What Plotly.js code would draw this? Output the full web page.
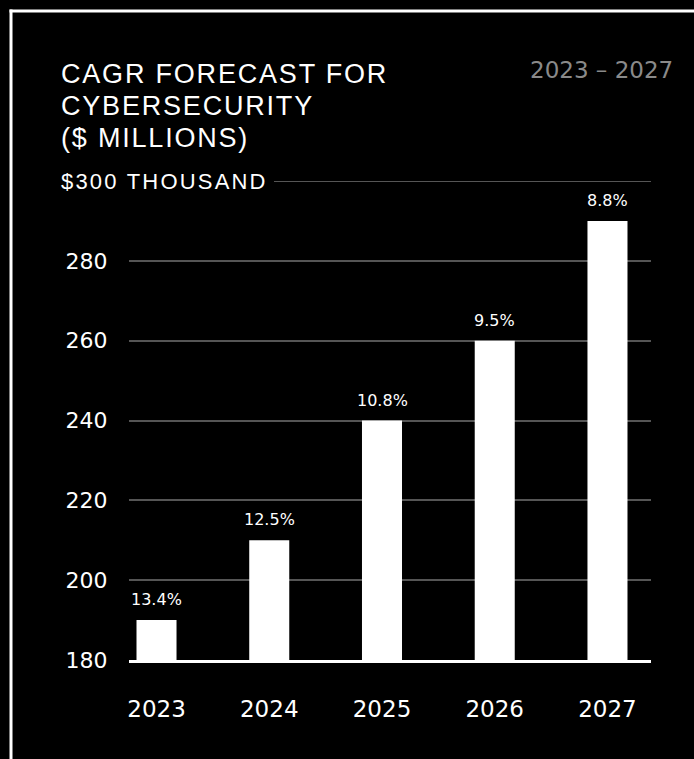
<!DOCTYPE html>
<html>
<head>
<meta charset="utf-8">
<script src="https://cdn.plot.ly/plotly-3.0.1.min.js"></script>
<style>
  html, body { margin: 0; padding: 0; background: #000; }
  #chart { width: 694px; height: 759px; }
</style>
</head>
<body>
<div id="chart"></div>
<script>
const years = ["2023", "2024", "2025", "2026", "2027"];
const values = [190, 210, 240, 260, 290];
const growthLabels = ["13.4%", "12.5%", "10.8%", "9.5%", "8.8%"];
const yTickVals = [180, 200, 220, 240, 260, 280];
const yTickText = ["180", "200", "220", "240", "260", "280"];
const topTickLabel = "$300 THOUSAND";
const titleLines = ["CAGR FORECAST FOR", "CYBERSECURITY", "($ MILLIONS)"];
const periodText = "2023 – 2027";

const W = 694, H = 759;
const M = { l: 129, r: 43, t: 181, b: 99 };
const PW = W - M.l - M.r, PH = H - M.t - M.b;
const px = x => (x - M.l) / PW;            // pixel x -> paper x
const py = y => (H - M.b - y) / PH;        // pixel y -> paper y
const spaced = (s, ls) => `<span style="letter-spacing:${ls}px">${s}</span>`;

const numFamily = "'DejaVu Sans', Verdana, sans-serif";
const textFamily = "'Liberation Sans', Arial, sans-serif";
const gridColor = "#555555";

const trace = {
  type: "bar",
  x: years.map((_, i) => i),
  y: values,
  width: 0.355,
  marker: { color: "#ffffff", line: { width: 0 } },
  hoverinfo: "skip"
};

const annotations = years.map((yr, i) => ({
  x: i, y: values[i], xref: "x", yref: "y",
  text: growthLabels[i], showarrow: false,
  yanchor: "bottom", yshift: 9,
  font: { family: numFamily, size: 16, color: "#ffffff" }
}));

const titleCenters = [74, 106, 137.5];
titleLines.forEach((line, i) => {
  annotations.push({
    x: px(59), y: py(titleCenters[i]), xref: "paper", yref: "paper",
    xanchor: "left", yanchor: "middle", align: "left",
    text: spaced(line, 1.8), showarrow: false,
    font: { family: textFamily, size: 27, color: "#ffffff" }
  });
});
annotations.push({
  x: px(675), y: py(70), xref: "paper", yref: "paper",
  xanchor: "right", yanchor: "middle",
  text: periodText, showarrow: false,
  font: { family: numFamily, size: 23, color: "#8a8a8a" }
});
annotations.push({
  x: px(59), y: 300, xref: "paper", yref: "y",
  xanchor: "left", yanchor: "middle",
  text: spaced(topTickLabel, 2.2), showarrow: false,
  font: { family: textFamily, size: 22, color: "#ffffff" }
});

const shapes = [
  { type: "line", xref: "paper", yref: "y", x0: px(274), x1: 1, y0: 300, y1: 300,
    line: { color: gridColor, width: 2 } },
  { type: "line", xref: "paper", yref: "paper", x0: px(11), x1: px(11), y0: py(9.5), y1: py(H + 5),
    line: { color: "#ffffff", width: 3 } },
  { type: "line", xref: "paper", yref: "paper", x0: px(9.5), x1: px(W + 5), y0: py(11), y1: py(11),
    line: { color: "#ffffff", width: 3 } }
];

const layout = {
  width: W, height: H,
  paper_bgcolor: "#000000", plot_bgcolor: "#000000",
  margin: M,
  showlegend: false,
  xaxis: {
    type: "linear",
    range: [-0.244, 4.386],
    tickvals: years.map((_, i) => i), ticktext: years,
    showgrid: false, zeroline: false,
    showline: true, linecolor: "#ffffff", linewidth: 3,
    ticks: "outside", ticklen: 26, tickcolor: "rgba(0,0,0,0)",
    tickfont: { family: numFamily, size: 23, color: "#ffffff" }, fixedrange: true
  },
  yaxis: {
    range: [180, 300],
    tickvals: yTickVals, ticktext: yTickText,
    showgrid: true, gridcolor: gridColor, gridwidth: 2,
    zeroline: false, showline: false,
    ticks: "outside", ticklen: 16, tickcolor: "rgba(0,0,0,0)",
    tickfont: { family: numFamily, size: 22, color: "#ffffff" }, fixedrange: true
  },
  annotations: annotations,
  shapes: shapes
};

Plotly.newPlot("chart", [trace], layout, { displayModeBar: false, staticPlot: true });
</script>
</body>
</html>
